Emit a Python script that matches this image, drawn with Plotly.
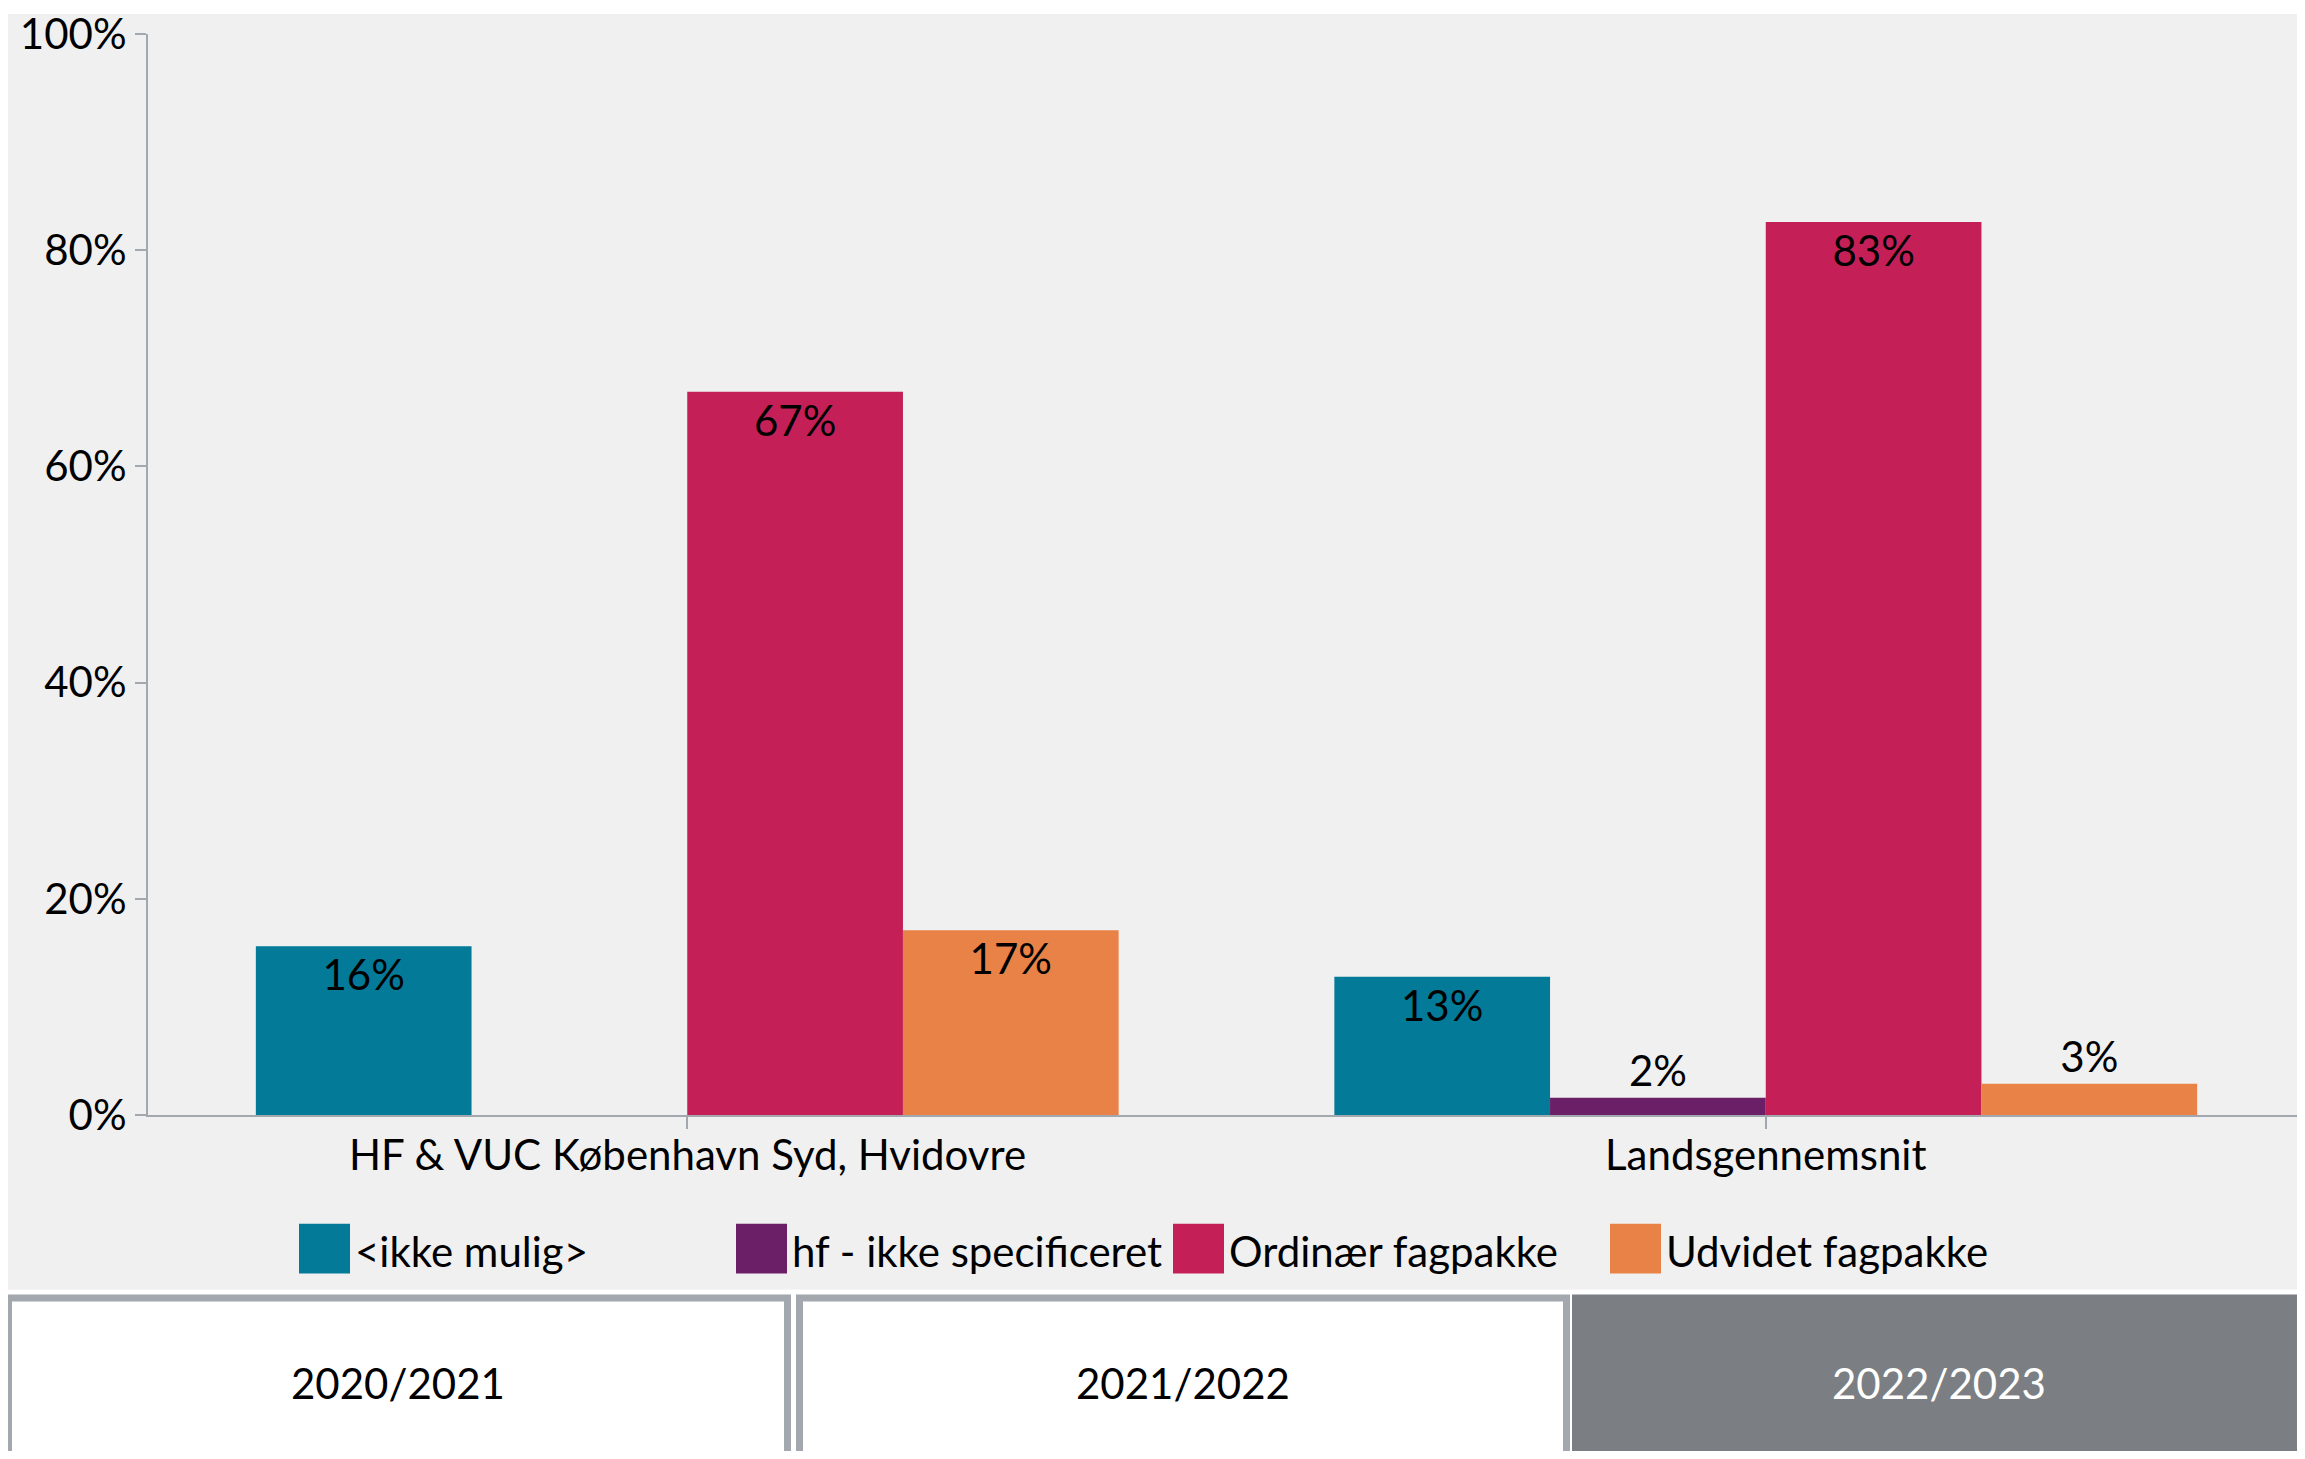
import plotly.graph_objects as go

# ---------------- data ----------------
categories = ["HF & VUC København Syd, Hvidovre", "Landsgennemsnit"]
series_names = ["<ikke mulig>", "hf - ikke specificeret", "Ordinær fagpakke", "Udvidet fagpakke"]
ikke_mulig = [15.6, 12.8]
hf_ikke_spec = [None, 1.6]
ordinaer = [66.9, 82.6]
udvidet = [17.1, 2.9]
series_values = [ikke_mulig, hf_ikke_spec, ordinaer, udvidet]
series_colors = ["#027a98", "#6a1f66", "#c42057", "#e98247"]
y_ticks = [0, 20, 40, 60, 80, 100]
y_tick_labels = ["0%", "20%", "40%", "60%", "80%", "100%"]
year_buttons = ["2020/2021", "2021/2022", "2022/2023"]
active_year = 2

# ---------------- geometry helpers (page pixel coords) ----------------
OFF = 8                      # default body margin of the page
FW, FH = 2305 - OFF, 1459 - 2 * OFF
P_LEFT, P_RIGHT, P_TOP, P_BOTTOM = 148, 2305, 31, 1115
L = P_LEFT - OFF
T = P_TOP - OFF
R = FW - (P_RIGHT - OFF)
B = FH - (P_BOTTOM - OFF)
PW = P_RIGHT - P_LEFT
PH = P_BOTTOM - P_TOP


def px2x(px):
    return (px - P_LEFT) / PW


def py2y(py):
    return (P_BOTTOM - py) / PH


FONT = "Lato, 'Open Sans', sans-serif"
FS = 42
BG = "#f0f0f0"
AXIS = "#a2a8ad"

fig = go.Figure()
for name, vals, col in zip(series_names, series_values, series_colors):
    fig.add_trace(go.Bar(
        x=categories, y=vals, name=name,
        marker=dict(color=col, line=dict(width=0)),
        texttemplate="%{y:.0f}%", textposition="auto",
        insidetextanchor="end",
        textfont=dict(family=FONT, size=FS, color="black"),
        insidetextfont=dict(family=FONT, size=FS, color="black"),
        outsidetextfont=dict(family=FONT, size=FS, color="black"),
        cliponaxis=False, showlegend=False,
    ))

shapes = []
annotations = []
# gray background panel
shapes.append(dict(type="rect", xref="paper", yref="paper", layer="below",
                   x0=px2x(5), x1=px2x(2320), y0=py2y(1290), y1=py2y(11),
                   fillcolor=BG, line=dict(width=0)))

# category labels under the axis
for cat in categories:
    annotations.append(dict(xref="x", yref="paper", x=cat, y=py2y(1154), text=cat,
                            showarrow=False, xanchor="center", yanchor="middle",
                            font=dict(family=FONT, size=FS, color="black")))

# custom legend
sq_left = 299
step = 437
sq_w = 51
sq_top, sq_bot = 1224, 1274
for i, (name, col) in enumerate(zip(series_names, series_colors)):
    x0 = sq_left + i * step
    shapes.append(dict(type="rect", xref="paper", yref="paper",
                       x0=px2x(x0), x1=px2x(x0 + sq_w), y0=py2y(sq_bot), y1=py2y(sq_top),
                       fillcolor=col, line=dict(width=0)))
    annotations.append(dict(xref="paper", yref="paper", x=px2x(x0 + sq_w + 3),
                            y=py2y((sq_top + sq_bot) / 2 + 2), text=name, showarrow=False,
                            xanchor="left", yanchor="middle",
                            font=dict(family=FONT, size=FS, color="black")))

# year buttons
boxes = [(5, 791), (796, 1570), (1572, 2330)]
bw = 7
for i, (label, (bx0, bx1)) in enumerate(zip(year_buttons, boxes)):
    active = i == active_year
    fill = "#7b7f83" if active else "white"
    lc = "#7b7f83" if active else AXIS
    shapes.append(dict(type="rect", xref="paper", yref="paper",
                       x0=px2x(bx0 + bw / 2), x1=px2x(bx1 - bw / 2),
                       y0=py2y(1500), y1=py2y(1295 + bw / 2),
                       fillcolor=fill, line=dict(color=lc, width=bw)))
    cx = (bx0 + min(bx1, 2305)) / 2
    annotations.append(dict(xref="paper", yref="paper", x=px2x(cx), y=py2y(1384),
                            text=label, showarrow=False, xanchor="center", yanchor="middle",
                            font=dict(family=FONT, size=FS, color="white" if active else "black")))

fig.update_layout(
    width=FW, height=FH,
    margin=dict(l=L, r=R, t=T, b=B, pad=0),
    paper_bgcolor="white", plot_bgcolor=BG,
    barmode="group", bargap=0.2, bargroupgap=0,
    font=dict(family=FONT, size=FS, color="black"),
    shapes=shapes, annotations=annotations,
    showlegend=False,
    xaxis=dict(range=[-0.5, 1.5], showline=True, linecolor=AXIS, linewidth=2,
               ticks="outside", ticklen=12, tickcolor=AXIS, tickwidth=2,
               showgrid=False, zeroline=False, showticklabels=False),
    yaxis=dict(range=[0, 100], tickmode="array", tickvals=y_ticks, ticktext=y_tick_labels,
               showline=True, linecolor=AXIS, linewidth=2,
               ticks="outside", ticklen=11, tickcolor=AXIS, tickwidth=2,
               ticklabeloverflow="allow",
               showgrid=False, zeroline=False,
               tickfont=dict(family=FONT, size=FS, color="black")),
)

fig.write_html("out.html")
